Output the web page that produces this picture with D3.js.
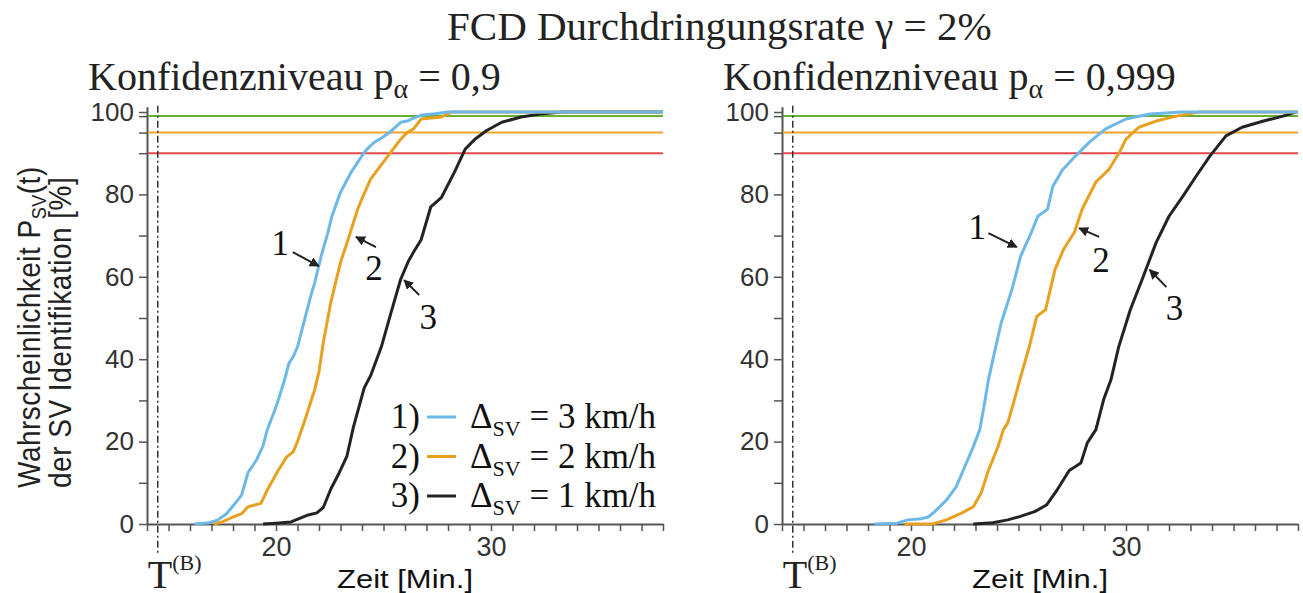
<!DOCTYPE html>
<html>
<head>
<meta charset="utf-8">
<script src="https://cdn.jsdelivr.net/npm/d3@7"></script>
<style>
  body { margin: 0; background: #fff; }
  svg { display: block; }
</style>
</head>
<body>
<div id="chart"></div>
<script>
// time axis [Min.] and probability axis [%]
const timeTicks = d3.range(14, 39);
const timeLabels = [20, 30];
const probTicks = [0, 10, 20, 30, 40, 50, 60, 70, 80, 90, 95, 99, 100];
const probLabels = [0, 20, 40, 60, 80, 100];
const thresholds = [90, 95, 99];
const tB = 14.5;

const seriesIds = ['1)', '2)', '3)'];
const seriesSpeeds = ['3 km/h', '2 km/h', '1 km/h'];
const confLevels = ['0,9', '0,999'];

// p_alpha = 0,9  -> [time, probability]
const conf09_dsv3 = [[16.2,0],[16.9,0.3],[17.3,1],[17.7,2.5],[18.1,5],[18.4,7],[18.7,12.5],[19.1,15.6],[19.4,19],[19.6,23],[19.9,27],[20.1,30],[20.4,35],[20.6,39],[20.8,40.6],[21.0,43],[21.3,49],[21.6,55],[21.8,58.6],[22.1,65],[22.4,70.5],[22.6,74.7],[23.0,80.5],[23.3,83.5],[23.5,85.4],[23.95,89],[24.2,90.8],[24.56,92.6],[25.0,94],[25.36,95.4],[25.8,97.5],[26.1,97.8],[26.4,98.5],[26.8,99.3],[27.4,99.6],[28,100],[38,100]];
const conf09_dsv2 = [[17.1,0],[17.5,0.5],[18.0,1.7],[18.4,2.5],[18.7,4.2],[19.3,5],[19.6,8.3],[20.1,13],[20.5,16.3],[20.8,17.5],[21.0,20],[21.3,24.5],[21.8,32.6],[22.0,37],[22.2,44],[22.55,53.8],[23.0,63.5],[23.35,69],[23.5,71.5],[23.8,76.4],[24.0,79],[24.4,83.7],[24.8,86.5],[25.2,89.3],[25.8,93.4],[26.1,95],[26.4,95.9],[26.75,98.3],[27.7,98.8],[28.2,100],[38,100]];
const conf09_dsv1 = [[19.4,0],[20.0,0.2],[20.7,0.5],[21.5,2.2],[21.9,2.7],[22.2,4],[22.55,8.5],[22.9,12],[23.3,16.5],[23.6,23.5],[24.1,33],[24.4,36],[24.9,43],[25.35,51.3],[25.8,59.4],[26.15,63.7],[26.4,66],[26.75,69],[27.2,77],[27.7,79.3],[28.3,85.4],[28.8,91],[29.25,93.4],[29.8,95.5],[30.5,97.5],[31.4,98.8],[32.3,99.5],[33.3,100],[38,100]];

// p_alpha = 0,999
const conf999_dsv3 = [[18.3,0],[19.35,0.2],[19.85,1],[20.5,1.3],[20.8,1.7],[21.1,3],[21.65,5.8],[22.1,9],[22.5,13.9],[22.9,18.8],[23.2,22.9],[23.45,30.2],[23.6,35],[24.05,45.5],[24.2,48.9],[24.7,57],[25.1,65],[25.6,70.8],[25.9,74.7],[26.35,76.4],[26.6,82],[27.05,86],[27.65,89.3],[28.3,92.7],[29.05,95.9],[30.0,98.3],[31.1,99.5],[32.6,100],[38,100]];
const conf999_dsv2 = [[19.7,0],[21.0,0],[21.65,1],[22.37,2.7],[22.9,4.2],[23.26,7.5],[23.6,13],[24.05,18.8],[24.3,22.9],[24.5,24.5],[24.8,30],[25.06,35],[25.5,43],[25.85,50.4],[26.26,52],[26.7,61.8],[27.1,66.7],[27.6,70.8],[27.96,76.4],[28.6,83],[29.2,86],[29.7,90.3],[30.0,93.4],[30.6,96.3],[31.4,97.8],[32.35,99],[33.4,100],[38,100]];
const conf999_dsv1 = [[22.9,0],[23.8,0.3],[24.5,1],[25.05,1.8],[25.75,3],[26.3,4.6],[26.8,8.3],[27.36,13],[27.9,14.8],[28.2,19.7],[28.6,22.9],[28.96,30.2],[29.3,35],[29.66,43],[30.2,52],[30.8,60],[31.4,68.3],[32.0,74.7],[32.65,79.6],[33.26,84.4],[33.9,89.3],[34.65,94.2],[35.4,96.3],[36.4,97.8],[37.3,99],[37.9,100]];

const width = 1303, height = 593;
const panelW = 516;
const seriesColors = ['#6cb8e8', '#e8a020', '#232323'];
const thresholdColors = ['#e8474c', '#f2a42a', '#66b032'];
const serif = "'Liberation Serif', 'Times New Roman', serif";
const sans = "'Liberation Sans', Arial, sans-serif";

const svg = d3.select('#chart').append('svg')
    .attr('width', width)
    .attr('height', height);

svg.append('defs').append('marker')
    .attr('id', 'arrow')
    .attr('viewBox', '0 0 10 10')
    .attr('refX', 9).attr('refY', 5)
    .attr('markerWidth', 5).attr('markerHeight', 5)
    .attr('markerUnits', 'strokeWidth')
    .attr('orient', 'auto')
    .append('path')
    .attr('d', 'M0,0 L10,5 L0,10 Z')
    .attr('fill', '#222');

// title
svg.append('text')
    .attr('x', 447).attr('y', 40)
    .attr('font-family', serif).attr('font-size', 41).attr('fill', '#222')
    .text('FCD Durchdringungsrate \u03b3 = 2%');

const y = d3.scaleLinear().domain([0, 100]).range([524, 112]);

function drawPanel(x0, conf, series, notes, showLegend) {
    const x = d3.scaleLinear().domain([14, 38]).range([x0, x0 + panelW]);
    const g = svg.append('g');

    // subtitle
    const sub = g.append('text')
        .attr('x', x0 - 59).attr('y', 90)
        .attr('font-family', serif).attr('font-size', 40).attr('fill', '#222');
    sub.append('tspan').text('Konfidenzniveau p');
    sub.append('tspan').attr('font-size', 28).attr('dy', 8).text('\u03b1');
    sub.append('tspan').attr('dy', -8).text(' = ' + conf);

    // axes
    const yAxisScale = y.copy().domain([0, 101.3]).range([y(0), y(101.3)]);
    const yAxis = g.append('g')
        .attr('transform', `translate(${x0},0)`)
        .call(d3.axisLeft(yAxisScale)
            .tickValues(probTicks)
            .tickFormat(d => probLabels.includes(d) ? d : '')
            .tickSize(8).tickSizeOuter(0).tickPadding(5));
    yAxis.selectAll('text')
        .attr('font-family', sans).attr('font-size', 26).attr('fill', '#333');

    const xAxis = g.append('g')
        .attr('transform', `translate(0,${y(0)})`)
        .call(d3.axisBottom(x)
            .tickValues(timeTicks)
            .tickFormat(d => timeLabels.includes(d) ? d : '')
            .tickSize(7).tickSizeOuter(0).tickPadding(6));
    xAxis.selectAll('text')
        .attr('font-family', sans).attr('font-size', 27).attr('fill', '#333');

    g.selectAll('.domain').attr('stroke', '#555').attr('stroke-width', 2);
    g.selectAll('.tick line').attr('stroke', '#555').attr('stroke-width', 1.5);

    // x label
    g.append('text')
        .attr('transform', `translate(${x0 + panelW / 2},588) scale(1.24,1)`)
        .attr('text-anchor', 'middle')
        .attr('font-family', sans).attr('font-size', 25).attr('fill', '#111')
        .text('Zeit [Min.]');

    // threshold lines
    g.selectAll('.thr')
        .data(thresholds)
        .enter()
        .append('line')
        .attr('x1', x0 + 1).attr('x2', x(38))
        .attr('y1', d => y(d)).attr('y2', d => y(d))
        .attr('stroke', (d, i) => thresholdColors[i])
        .attr('stroke-width', 2);

    // T(B) marker
    g.append('line')
        .attr('x1', x(tB)).attr('x2', x(tB))
        .attr('y1', y(101.5)).attr('y2', 555)
        .attr('stroke', '#333').attr('stroke-width', 1.5)
        .attr('stroke-dasharray', '7,3,2,3');
    const tb = g.append('text')
        .attr('x', x(tB) - 10).attr('y', 588)
        .attr('font-family', serif).attr('font-size', 40).attr('fill', '#222');
    tb.append('tspan').text('T');
    tb.append('tspan').attr('font-size', 22).attr('dy', -18).text('(B)');

    // curves
    const line = d3.line().x(d => x(d[0])).y(d => y(d[1]));
    [2, 1, 0].forEach(i => {
        g.append('path')
            .datum(series[i])
            .attr('d', line)
            .attr('fill', 'none')
            .attr('stroke', seriesColors[i])
            .attr('stroke-width', 3)
            .attr('stroke-linejoin', 'round');
    });

    // annotations
    notes.forEach(n => {
        g.append('text')
            .attr('x', x(n.at[0])).attr('y', y(n.at[1]))
            .attr('text-anchor', 'middle')
            .attr('font-family', serif).attr('font-size', 35).attr('fill', '#111')
            .text(n.label);
        g.append('line')
            .attr('x1', x(n.from[0])).attr('y1', y(n.from[1]))
            .attr('x2', x(n.to[0])).attr('y2', y(n.to[1]))
            .attr('stroke', '#222').attr('stroke-width', 2)
            .attr('marker-end', 'url(#arrow)');
    });

    if (showLegend) {
        const lg = g.append('g').attr('transform', `translate(${x0 + panelW},0)`);
        seriesIds.forEach((id, i) => {
            const by = 428 + i * 39.5;
            lg.append('text')
                .attr('x', -243).attr('y', by)
                .attr('text-anchor', 'end')
                .attr('font-family', serif).attr('font-size', 35).attr('fill', '#111')
                .text(id);
            lg.append('line')
                .attr('x1', -236).attr('x2', -207)
                .attr('y1', by - 11).attr('y2', by - 11)
                .attr('stroke', seriesColors[i]).attr('stroke-width', 3);
            const t = lg.append('text')
                .attr('x', -193).attr('y', by)
                .attr('font-family', serif).attr('font-size', 35).attr('fill', '#111');
            t.append('tspan').text('\u0394');
            t.append('tspan').attr('font-size', 22).attr('dy', 8).text('SV');
            t.append('tspan').attr('dy', -8).text(' = ' + seriesSpeeds[i]);
        });
    }
}

drawPanel(147, confLevels[0], [conf09_dsv3, conf09_dsv2, conf09_dsv1], [
    { label: '1', at: [20.2, 65.3], from: [20.78, 66], to: [21.99, 62.6] },
    { label: '2', at: [24.56, 59.2], from: [24.65, 67.2], to: [23.72, 69.7] },
    { label: '3', at: [27.08, 47.3], from: [26.66, 55.6], to: [25.96, 59.2] }
], true);

drawPanel(782, confLevels[1], [conf999_dsv3, conf999_dsv2, conf999_dsv1], [
    { label: '1', at: [23.08, 69.2], from: [23.6, 70.6], to: [24.92, 67.2] },
    { label: '2', at: [28.84, 61.2], from: [28.75, 69.7], to: [27.82, 71.8] },
    { label: '3', at: [32.25, 49.5], from: [31.88, 57.5], to: [31.1, 61.7] }
], false);

// y axis title
const yt = svg.append('g').attr('font-family', sans).attr('font-size', 28).attr('fill', '#222')
    .attr('letter-spacing', 0.5);
const yl1 = yt.append('text')
    .attr('transform', 'translate(40,488) scale(1.12,1) rotate(-90)');
yl1.append('tspan').text('Wahrscheinlichkeit P');
yl1.append('tspan').attr('font-size', 18).attr('dy', 5).text('SV');
yl1.append('tspan').attr('dy', -5).text('(t)');
yt.append('text')
    .attr('transform', 'translate(71,488) scale(1.12,1) rotate(-90)')
    .text('der SV Identifikation [%]');
</script>
</body>
</html>
